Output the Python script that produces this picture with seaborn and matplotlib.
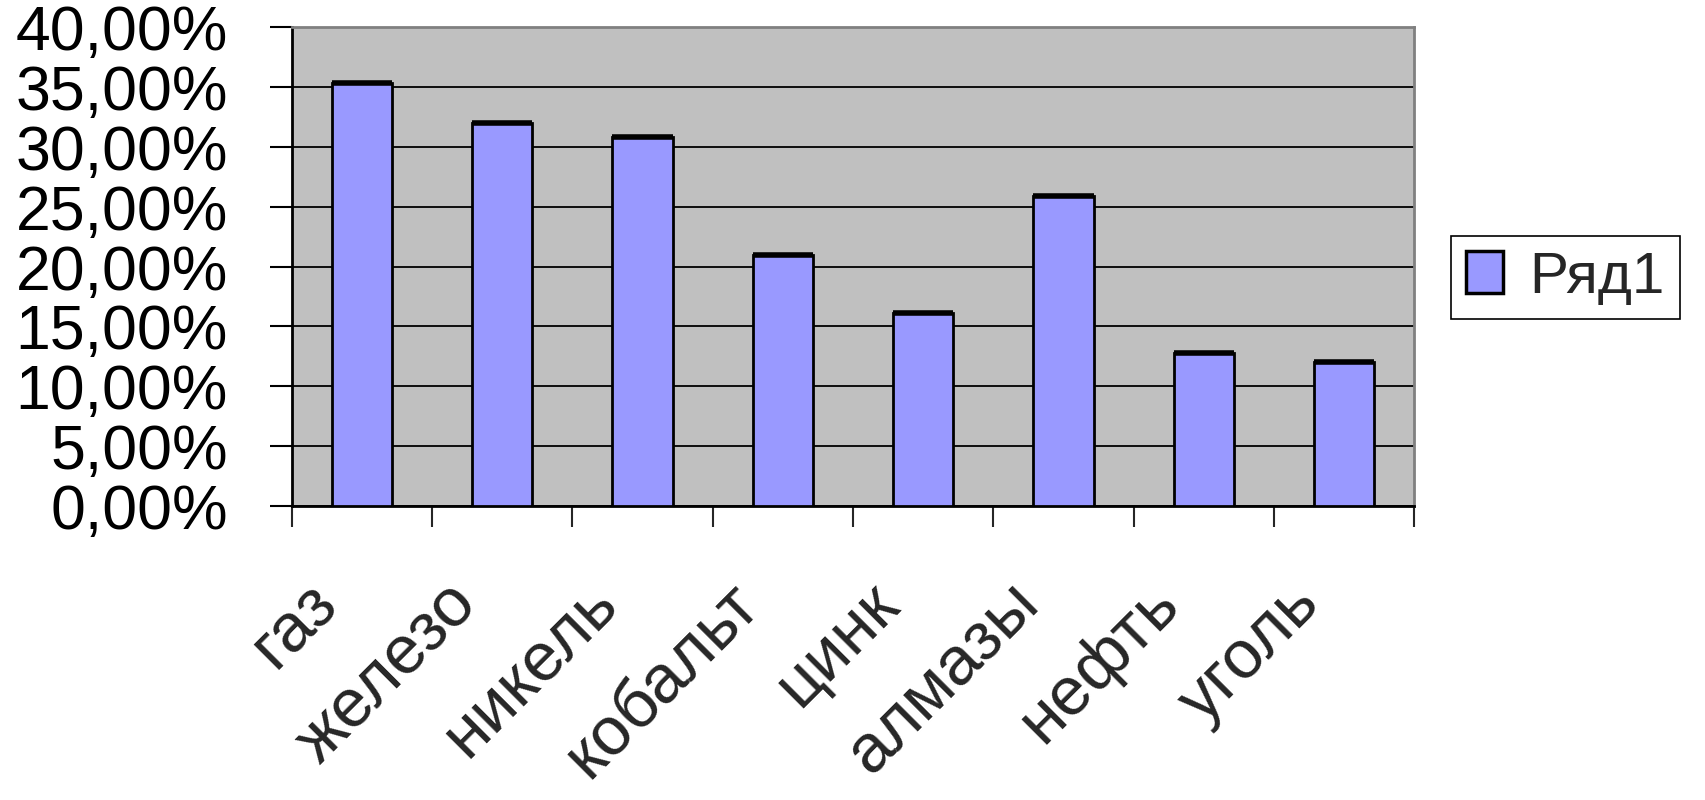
import matplotlib
matplotlib.use("Agg")
import matplotlib.pyplot as plt
from matplotlib.patches import Patch
from matplotlib.ticker import FuncFormatter, MultipleLocator, FixedLocator
from matplotlib.transforms import ScaledTranslation
import seaborn as sns
import pandas as pd

categories = ["газ", "железо", "никель", "кобальт", "цинк", "алмазы", "нефть", "уголь"]
values = [35.3, 32.0, 30.8, 21.0, 16.1, 25.9, 12.8, 12.0]
series_name = "Ряд1"

df = pd.DataFrame({"cat": categories, "val": values, "series": series_name})

sns.set_style("white")
plt.rcParams["font.family"] = ["Liberation Sans", "DejaVu Sans"]

fig = plt.figure(figsize=(17.06, 8), dpi=100)
ax = fig.add_axes([0.171, 0.3675, 0.658, 0.5985])
ax.set_facecolor("#C0C0C0")

sns.barplot(data=df, x="cat", y="val", hue="series", palette=["#9999FF"],
            saturation=1, dodge=False, width=0.43, edgecolor="black",
            linewidth=2, legend=False, ax=ax, zorder=3)

# Excel-style heavier top edge on each bar
for p in ax.patches:
    ax.plot([p.get_x(), p.get_x() + p.get_width()], [p.get_height()] * 2,
            color="black", linewidth=4, solid_capstyle="butt", zorder=4)

ax.set_ylim(0, 40)
ax.set_xlim(-0.5, len(categories) - 0.5)
ax.yaxis.set_major_locator(MultipleLocator(5))
ax.yaxis.set_major_formatter(FuncFormatter(lambda v, p: f"{v:.2f}".replace(".", ",") + "%"))
ax.grid(axis="y", color="black", linewidth=1.3, zorder=1)
ax.set_axisbelow(True)
ax.set_xlabel("")
ax.set_ylabel("")

for s in ["left", "bottom"]:
    ax.spines[s].set_color("black")
    ax.spines[s].set_linewidth(2)
for s in ["top", "right"]:
    ax.spines[s].set_color("#808080")
    ax.spines[s].set_linewidth(2)

ax.tick_params(axis="y", direction="out", length=16, width=1.5, pad=30,
               labelsize=45, left=True, colors="black")
# category boundaries get the tick marks, labels sit at the centres
ax.xaxis.set_minor_locator(FixedLocator([i - 0.5 for i in range(len(categories) + 1)]))
ax.tick_params(axis="x", which="minor", direction="out", length=15, width=1.5, bottom=True)
ax.tick_params(axis="x", which="major", length=0, pad=72, labelsize=49)
shift = ScaledTranslation(-22 / 100, 0, fig.dpi_scale_trans)
for lbl in ax.get_xticklabels():
    lbl.set_rotation(45)
    lbl.set_ha("right")
    lbl.set_va("baseline")
    lbl.set_rotation_mode("anchor")
    lbl.set_transform(lbl.get_transform() + shift)

handle = Patch(facecolor="#9999FF", edgecolor="black", linewidth=2.5)
leg = fig.legend([handle], [series_name], loc="center left",
                 bbox_to_anchor=(0.8505, 0.653), fontsize=42, frameon=True,
                 fancybox=False, framealpha=1, edgecolor="black",
                 handlelength=0.65, handleheight=0.74, handletextpad=0.45,
                 borderpad=0.25, borderaxespad=0)
leg.get_frame().set_linewidth(1.2)

fig.savefig("out.png", dpi=100)
